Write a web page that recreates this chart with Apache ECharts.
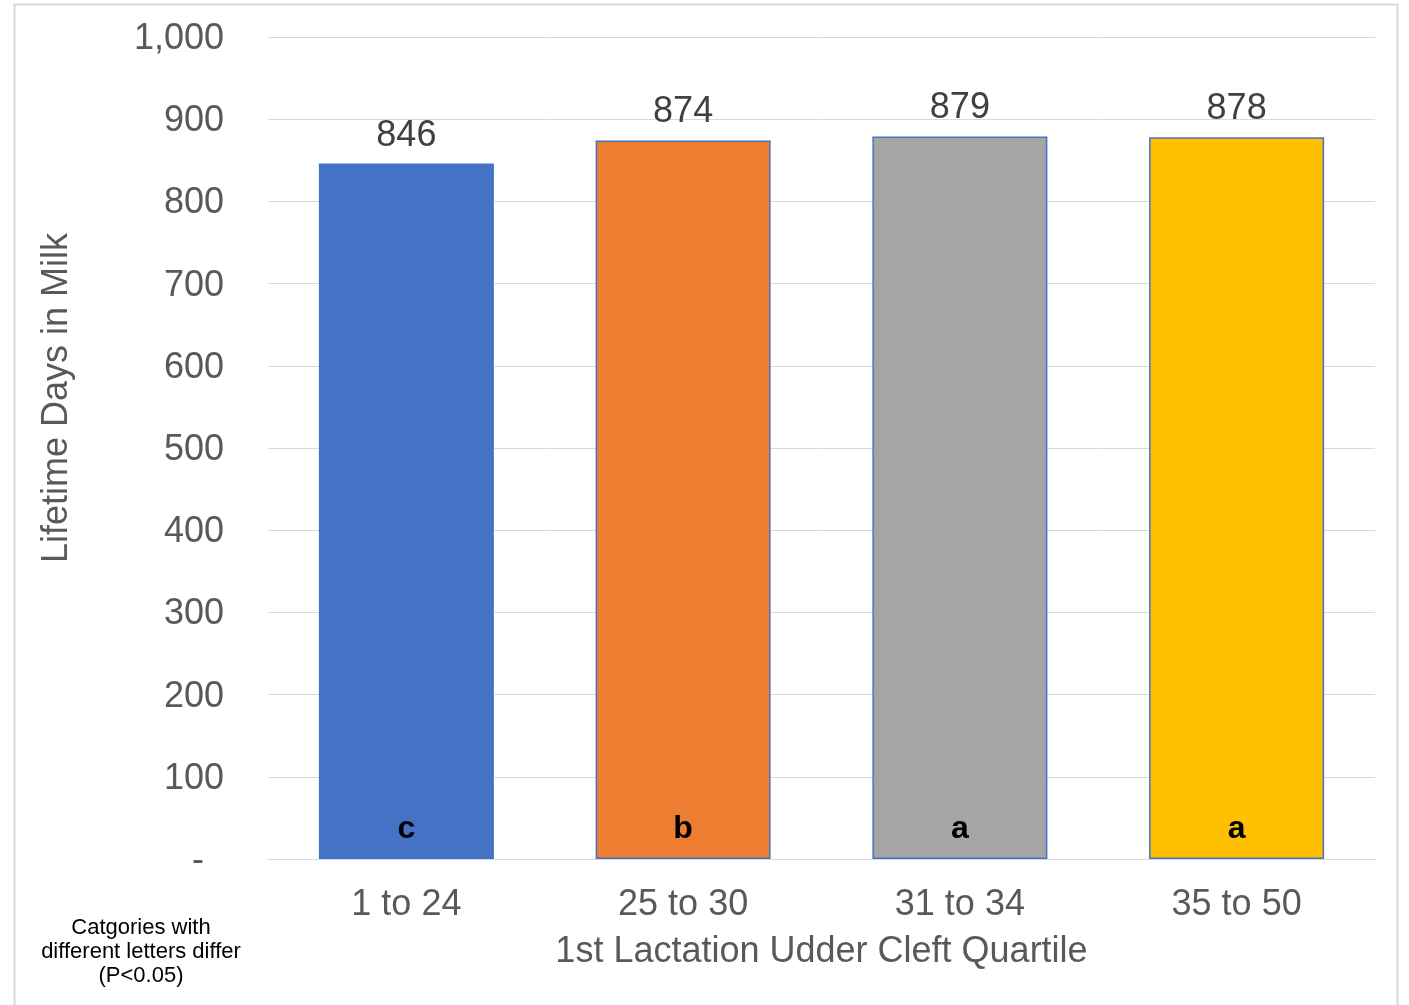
<!DOCTYPE html>
<html><head><meta charset="utf-8">
<script src="https://cdn.jsdelivr.net/npm/echarts@6/dist/echarts.min.js"></script>
<style>html,body{margin:0;padding:0;background:#fff}#c{width:1409px;height:1005px}</style>
</head><body><div id="c"></div>
<script>
const categories = ['1 to 24', '25 to 30', '31 to 34', '35 to 50'];
const values = [846, 874, 879, 878];
const letters = ['c', 'b', 'a', 'a'];
const colors = ['#4472C4', '#ED7D31', '#A5A5A5', '#FFC000'];
const yTicks = [0, 100, 200, 300, 400, 500, 600, 700, 800, 900, 1000];

const chart = echarts.init(document.getElementById('c'));
const font = 'Liberation Sans, Arial, sans-serif';
chart.setOption({
  animation: false,
  backgroundColor: '#fff',
  grid: {left: 268, right: 34, top: 37, bottom: 146, containLabel: false},
  xAxis: {
    type: 'category', data: categories,
    axisLine: {show: true, lineStyle: {color: '#d9d9d9', width: 1}},
    axisTick: {show: false},
    axisLabel: {color: '#595959', fontSize: 36, fontFamily: font, margin: 28},
    name: '1st Lactation Udder Cleft Quartile', nameLocation: 'middle', nameGap: 75,
    nameTextStyle: {color: '#595959', fontSize: 36, fontFamily: font}
  },
  yAxis: {
    type: 'value', min: yTicks[0], max: yTicks[yTicks.length - 1], interval: 100,
    axisLine: {show: false}, axisTick: {show: false},
    splitLine: {lineStyle: {color: '#d9d9d9', width: 1}},
    axisLabel: {color: '#595959', fontSize: 36, fontFamily: font, margin: 44, padding: [4, 0, 0, 0],
      formatter: v => v === 0 ? '{d|-}' : v.toLocaleString('en-US'),
      rich: {d: {fontSize: 36, fontFamily: font, color: '#595959', padding: [0, 20, 0, 0]}}}
  },
  series: [{
    type: 'bar', barWidth: 175,
    data: values.map((v, i) => ({value: v, itemStyle: {color: colors[i]}})),
    itemStyle: {borderColor: '#4472C4', borderWidth: 1.5},
    label: {show: true, position: 'top', distance: 10, color: '#404040', fontSize: 36, fontFamily: font}
  }, {
    type: 'bar', barWidth: 175, barGap: '-100%', z: 5,
    data: values.map((v, i) => ({value: v})),
    itemStyle: {color: 'rgba(0,0,0,0)'},
    label: {show: true, position: 'insideBottom', distance: 14, color: '#000', fontSize: 32,
      fontWeight: 'bold', fontFamily: font, formatter: p => letters[p.dataIndex]}
  }],
  graphic: [{
    type: 'rect', shape: {x: 14.5, y: 4.5, width: 1383, height: 1010},
    style: {fill: 'none', stroke: '#d9d9d9', lineWidth: 2}, silent: true
  }, {
    type: 'text', x: 57, y: 398, rotation: Math.PI / 2,
    style: {text: 'Lifetime Days in Milk', textAlign: 'center', textVerticalAlign: 'middle',
      fill: '#595959', fontSize: 36, fontFamily: font}
  }, {
    type: 'text', x: 141, y: 916,
    style: {text: 'Catgories with\ndifferent letters differ\n(P<0.05)',
      textAlign: 'center', fill: '#000', fontSize: 22, lineHeight: 24, fontFamily: font}
  }]
});
</script></body></html>
